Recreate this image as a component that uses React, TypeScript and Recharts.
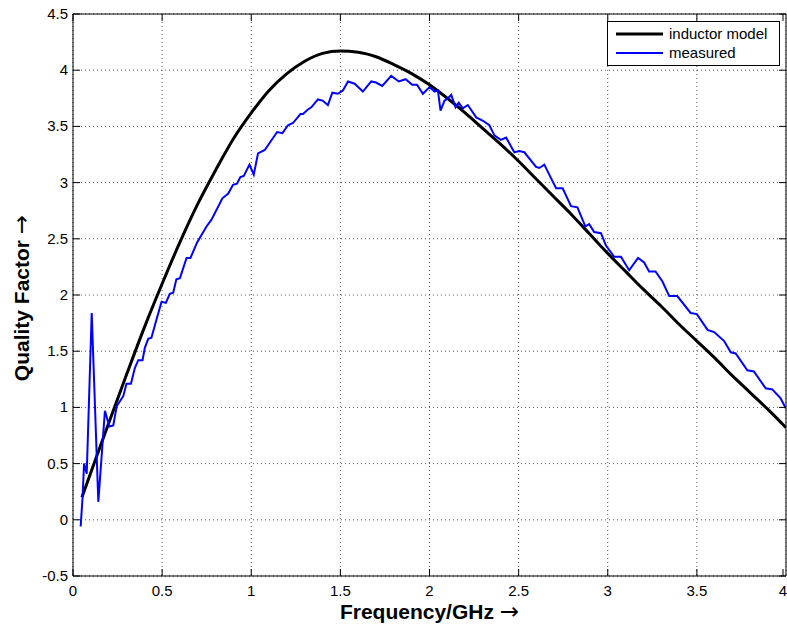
import React from "react"
import { LineChart, Line, XAxis, YAxis, CartesianGrid, Legend, ReferenceLine } from "recharts"

// inductor model curve (smooth)
const modelFreq = [0.05, 0.1, 0.2, 0.3, 0.4, 0.5, 0.6, 0.7, 0.8, 0.9, 1.0, 1.1, 1.2, 1.3, 1.4, 1.5, 1.6, 1.7, 1.8, 1.9, 2.0, 2.1, 2.2, 2.3, 2.4, 2.5, 2.6, 2.7, 2.8, 2.9, 3.0, 3.1, 3.2, 3.3, 3.4, 3.5, 3.6, 3.7, 3.8, 3.9, 4.0]
const modelQ = [0.2, 0.42, 0.86, 1.29, 1.71, 2.1, 2.47, 2.81, 3.11, 3.39, 3.62, 3.82, 3.97, 4.08, 4.15, 4.17, 4.16, 4.12, 4.05, 3.97, 3.87, 3.75, 3.62, 3.48, 3.34, 3.19, 3.03, 2.87, 2.71, 2.54, 2.37, 2.21, 2.05, 1.9, 1.74, 1.59, 1.44, 1.28, 1.13, 0.98, 0.82]

// measured curve (noisy)
const measFreq = [0.043, 0.054, 0.062, 0.077, 0.105, 0.142, 0.179, 0.204, 0.226, 0.245, 0.282, 0.3, 0.325, 0.347, 0.366, 0.39, 0.403, 0.422, 0.44, 0.468, 0.497, 0.521, 0.543, 0.562, 0.58, 0.6, 0.637, 0.659, 0.697, 0.749, 0.777, 0.838, 0.87, 0.898, 0.92, 0.939, 0.958, 0.99, 1.014, 1.038, 1.076, 1.145, 1.175, 1.206, 1.234, 1.276, 1.29, 1.318, 1.337, 1.374, 1.4, 1.43, 1.455, 1.486, 1.514, 1.543, 1.58, 1.626, 1.673, 1.7, 1.735, 1.785, 1.828, 1.866, 1.903, 1.93, 1.963, 2.0, 2.028, 2.047, 2.062, 2.084, 2.103, 2.122, 2.146, 2.164, 2.187, 2.215, 2.262, 2.3, 2.336, 2.364, 2.4, 2.43, 2.476, 2.504, 2.532, 2.598, 2.616, 2.644, 2.71, 2.747, 2.794, 2.83, 2.874, 2.896, 2.924, 2.962, 2.99, 3.036, 3.074, 3.12, 3.17, 3.204, 3.232, 3.268, 3.307, 3.345, 3.39, 3.465, 3.5, 3.56, 3.597, 3.653, 3.69, 3.718, 3.783, 3.82, 3.886, 3.923, 3.97, 4.0]
const measQ = [-0.06, 0.21, 0.5, 0.41, 1.84, 0.16, 0.97, 0.83, 0.84, 1.01, 1.1, 1.21, 1.21, 1.35, 1.42, 1.42, 1.53, 1.61, 1.62, 1.78, 1.94, 1.93, 2.01, 2.02, 2.14, 2.15, 2.33, 2.33, 2.47, 2.61, 2.67, 2.86, 2.9, 2.98, 2.99, 3.05, 3.06, 3.16, 3.07, 3.26, 3.29, 3.45, 3.44, 3.51, 3.53, 3.61, 3.61, 3.65, 3.67, 3.74, 3.73, 3.69, 3.8, 3.79, 3.82, 3.9, 3.88, 3.81, 3.9, 3.89, 3.86, 3.95, 3.9, 3.92, 3.87, 3.87, 3.79, 3.85, 3.81, 3.82, 3.64, 3.73, 3.75, 3.78, 3.67, 3.71, 3.66, 3.69, 3.58, 3.55, 3.51, 3.42, 3.38, 3.4, 3.27, 3.28, 3.27, 3.14, 3.13, 3.16, 2.95, 2.95, 2.79, 2.78, 2.61, 2.63, 2.56, 2.55, 2.44, 2.34, 2.34, 2.22, 2.33, 2.29, 2.21, 2.21, 2.12, 1.99, 1.99, 1.84, 1.83, 1.69, 1.67, 1.59, 1.49, 1.48, 1.33, 1.32, 1.17, 1.16, 1.08, 0.99]

const xTicks = [0, 0.5, 1, 1.5, 2, 2.5, 3, 3.5, 4]
const yTicks = [-0.5, 0, 0.5, 1, 1.5, 2, 2.5, 3, 3.5, 4, 4.5]

const seriesNames = ["inductor model", "measured"]
const seriesColors = ["#000000", "#0000ff"]

const modelData = modelFreq.map((x, i) => ({ x, q: modelQ[i] }))
const measData = measFreq.map((x, i) => ({ x, q: measQ[i] }))

const W = 787
const H = 625
const Y_W = 73
const X_H = 49
const TOP = 14
const PLOT_LEFT = Y_W
const PLOT_RIGHT = W - 1
const PLOT_TOP = TOP
const PLOT_BOTTOM = H - X_H
const TICK_LEN = 7
const FONT = "'Liberation Sans', Arial, Helvetica, sans-serif"
const ARROW_FONT = "'DejaVu Sans', sans-serif"

function XTick(props: any) {
  const { x, payload } = props
  return (
    <g>
      <line x1={x} x2={x} y1={PLOT_BOTTOM} y2={PLOT_BOTTOM - TICK_LEN} stroke="#000" />
      <line x1={x} x2={x} y1={PLOT_TOP} y2={PLOT_TOP + TICK_LEN} stroke="#000" />
      <text x={x} y={PLOT_BOTTOM + 20} textAnchor="middle" fontSize={15} fontFamily={FONT} fill="#000">
        {String(payload.value)}
      </text>
    </g>
  )
}

function YTick(props: any) {
  const { y, payload } = props
  return (
    <g>
      <line x1={PLOT_LEFT} x2={PLOT_LEFT + TICK_LEN} y1={y} y2={y} stroke="#000" />
      <line x1={PLOT_RIGHT} x2={PLOT_RIGHT - TICK_LEN} y1={y} y2={y} stroke="#000" />
      <text x={PLOT_LEFT - 5} y={y + 5} textAnchor="end" fontSize={15} fontFamily={FONT} fill="#000">
        {String(payload.value)}
      </text>
    </g>
  )
}

function XTitle() {
  return (
    <text
      x={(PLOT_LEFT + PLOT_RIGHT) / 2}
      y={H - 6}
      textAnchor="middle"
      fontSize={21}
      fontWeight="bold"
      fontFamily={FONT}
      fill="#000"
    >
      Frequency/GHz <tspan fontFamily={ARROW_FONT} fontWeight="normal" fontSize={23}>→</tspan>
    </text>
  )
}

function YTitle() {
  const cx = 29
  const cy = 298
  return (
    <text
      x={cx}
      y={cy}
      transform={`rotate(-90, ${cx}, ${cy})`}
      textAnchor="middle"
      fontSize={21}
      fontWeight="bold"
      fontFamily={FONT}
      fill="#000"
    >
      Quality Factor <tspan fontFamily={ARROW_FONT} fontWeight="normal" fontSize={23}>→</tspan>
    </text>
  )
}

function LegendBox() {
  return (
    <div
      style={{
        border: "1px solid #000",
        background: "#fff",
        fontFamily: FONT,
        fontSize: 15,
        padding: "2px 6px 3px 8px",
        lineHeight: "19px",
      }}
    >
      {seriesNames.map((name, i) => (
        <div key={name} style={{ display: "flex", alignItems: "center" }}>
          <svg width={47} height={6} style={{ marginRight: 6 }}>
            <line x1={0} x2={47} y1={3} y2={3} stroke={seriesColors[i]} strokeWidth={i === 0 ? 3 : 2} />
          </svg>
          <span>{name}</span>
        </div>
      ))}
    </div>
  )
}

export default function App() {
  return (
    <div style={{ position: "absolute", left: 0, top: 0, background: "#fff" }}>
      <LineChart width={W} height={H} margin={{ top: TOP, right: 1, left: 0, bottom: 0 }}>
        <CartesianGrid stroke="#555" strokeDasharray="1 3" />
        <XAxis
          type="number"
          dataKey="x"
          domain={[0, 4]}
          ticks={xTicks}
          allowDataOverflow
          height={X_H}
          tickLine={false}
          axisLine={{ stroke: "#000" }}
          tick={<XTick />}
          label={() => <XTitle />}
        />
        <YAxis
          type="number"
          domain={[-0.5, 4.5]}
          ticks={yTicks}
          allowDataOverflow
          width={Y_W}
          tickLine={false}
          axisLine={{ stroke: "#000" }}
          tick={<YTick />}
          label={() => <YTitle />}
        />
        <ReferenceLine y={4.5} stroke="#000" />
        <ReferenceLine x={4} stroke="#000" />
        <Line
          data={modelData}
          dataKey="q"
          name={seriesNames[0]}
          type="monotone"
          stroke={seriesColors[0]}
          strokeWidth={3}
          dot={false}
          isAnimationActive={false}
        />
        <Line
          data={measData}
          dataKey="q"
          name={seriesNames[1]}
          type="linear"
          stroke={seriesColors[1]}
          strokeWidth={2}
          dot={false}
          isAnimationActive={false}
        />
        <Legend
          layout="horizontal"
          verticalAlign="middle"
          align="center"
          content={() => <LegendBox />}
          wrapperStyle={{ position: "absolute", left: 607, top: 21, width: 173 }}
        />
      </LineChart>
    </div>
  )
}
